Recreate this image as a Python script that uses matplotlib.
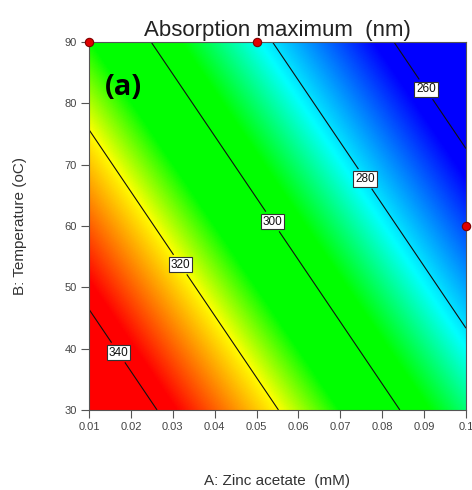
# Response surface contour: absorption maximum vs zinc acetate and temperature
import numpy as np
import matplotlib.pyplot as plt
from matplotlib.colors import LinearSegmentedColormap, Normalize

plt.rcParams['font.family'] = ['Liberation Sans', 'DejaVu Sans']

# Fitted linear model: Y = b0 + bA*A + bT*T
b0 = 378.6
bA = -690.0    # nm per mM
bT = -0.683    # nm per oC

# Axis ranges / ticks
x_ticks = [0.01, 0.02, 0.03, 0.04, 0.05, 0.06, 0.07, 0.08, 0.09, 0.1]
x_ticklabels = ['0.01', '0.02', '0.03', '0.04', '0.05', '0.06', '0.07', '0.08', '0.09', '0.1']
y_ticks = [30, 40, 50, 60, 70, 80, 90]

# Contour levels and where their labels sit
levels = [260, 280, 300, 320, 340]
label_pos = [(0.0909, 82.5), (0.0766, 68.0), (0.0544, 61.0), (0.0324, 54.0), (0.0179, 39.8)]

# Design points shown as red dots
pts_A = [0.01, 0.05, 0.1]
pts_T = [90, 90, 60]

# colour scale: blue (low) -> cyan -> green -> yellow -> red (high)
vmin, vmax = 263, 337
stops = [(263, '#0000ff'), (282, '#00ffff'), (295, '#00ff00'),
         (310, '#00ff00'), (320, '#ffff00'), (337, '#ff0000')]
cmap = LinearSegmentedColormap.from_list(
    'de', [((v - vmin) / (vmax - vmin), c) for v, c in stops])

A = np.linspace(0.01, 0.1, 300)
T = np.linspace(30, 90, 300)
AA, TT = np.meshgrid(A, T)
Y = b0 + bA * AA + bT * TT

fig = plt.figure(figsize=(4.72, 4.90), dpi=100)
ax = fig.add_axes([0.1886, 0.1633, 0.7986, 0.751])

ax.imshow(Y, extent=[0.01, 0.1, 30, 90], origin='lower', aspect='auto',
          cmap=cmap, norm=Normalize(vmin, vmax), interpolation='bilinear')
cs = ax.contour(AA, TT, Y, levels=levels, colors='#111111', linewidths=0.8)
lbls = ax.clabel(cs, inline=True, fmt='%d', fontsize=8.5, manual=label_pos, inline_spacing=2)
for t in lbls:
    t.set_bbox(dict(boxstyle='square,pad=0.15', fc='white', ec='#333333', lw=0.8))
    t.set_rotation(0)

ax.plot(pts_A, pts_T, 'o', color='#e00000', mec='#800000', mew=0.8, ms=6,
        clip_on=False, zorder=5)

ax.set_xlim(0.01, 0.1)
ax.set_ylim(30, 90)
ax.set_xticks(x_ticks)
ax.set_xticklabels(x_ticklabels)
ax.set_yticks(y_ticks)
ax.tick_params(direction='out', length=6, width=0.8, colors='#555555',
               labelcolor='#444444', labelsize=8, pad=3)
for s in ax.spines.values():
    s.set_color('#555555')
    s.set_linewidth(0.8)

ax.set_title('Absorption maximum  (nm)', fontsize=16, color='#222222', pad=4)
ax.set_xlabel('A: Zinc acetate  (mM)', fontsize=11, color='#333333')
ax.set_ylabel('B: Temperature (oC)', fontsize=11, color='#333333')
ax.xaxis.set_label_coords(0.5, -0.175)
ax.yaxis.set_label_coords(-0.165, 0.5)

ax.text(0.042, 0.875, '(a)', transform=ax.transAxes, fontsize=21,
        fontweight='bold', family=['Open Sans', 'DejaVu Sans'], va='center', ha='left')

fig.savefig('out.png', dpi=100)
